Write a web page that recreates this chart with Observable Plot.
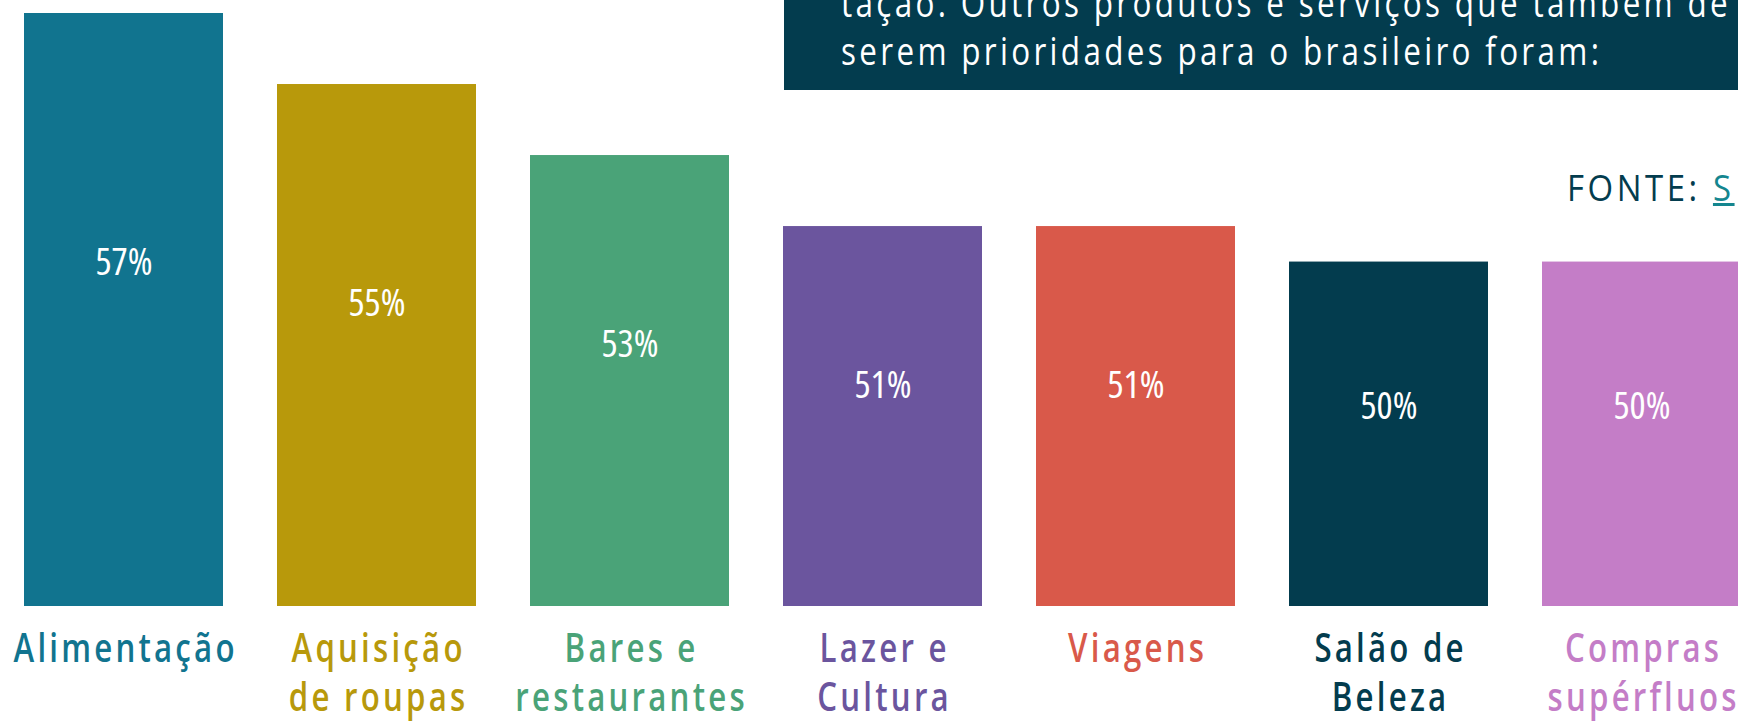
<!DOCTYPE html>
<html>
<head>
<meta charset="utf-8">
<script src="https://cdn.jsdelivr.net/npm/d3@7"></script>
<script src="https://cdn.jsdelivr.net/npm/@observablehq/plot@0.6"></script>
<style>
  html, body { margin: 0; padding: 0; background: #ffffff; overflow: hidden; width: 1738px; height: 721px; }
  #wrap { position: relative; width: 1738px; height: 721px; overflow: hidden; }
  #chart { position: absolute; left: 0; top: 0; }
  #chart svg { max-width: none !important; display: block; }
  .panel { position: absolute; left: 784px; top: 0; width: 1000px; height: 90px; background: #033c4e; overflow: hidden; }
  .line { position: absolute; left: 57px; color: #ffffff; font-size: 38px; line-height: 38px; white-space: nowrap; transform-origin: 0 50%; }
  .fonte { position: absolute; left: 1567px; top: 168px; color: #033c4e; font-size: 37px; line-height: 37px; white-space: nowrap; transform-origin: 0 50%; }
  .fonte a { color: #14868f; text-decoration: underline; }
</style>
</head>
<body>
<div id="wrap">
  <div id="chart"></div>
  <div class="panel">
    <span class="line" id="l1" style="top:-17px">tação. Outros produtos e serviços que também de</span>
    <span class="line" id="l2" style="top:31px">serem prioridades para o brasileiro foram:</span>
  </div>
  <div class="fonte" id="fonte">FONTE: <a>S</a></div>
</div>
<script>
// ---- data ----
const categories = ["Alimentação", "Aquisição\nde roupas", "Bares e\nrestaurantes", "Lazer e\nCultura", "Viagens", "Salão de\nBeleza", "Compras\nsupérfluos"];
const values = [57, 55, 53, 51, 51, 50, 50];
const colors = ["#11748f", "#b8990b", "#4aa378", "#6b559e", "#d9594a", "#033c4e", "#c47dc7"];

const data = categories.map((c, i) => ({cat: c, value: values[i], color: colors[i]}));

// ---- font choice and calibration (text widths) ----
const probe = document.createElement("span");
probe.style.cssText = "position:absolute;visibility:hidden;white-space:nowrap;left:-9999px;top:0;";
document.body.appendChild(probe);
function meas(txt, fam, size, weight, stretch) {
  probe.style.fontFamily = fam;
  probe.style.fontSize = size + "px";
  probe.style.fontWeight = weight;
  probe.style.fontStretch = stretch;
  probe.style.letterSpacing = "0px";
  probe.textContent = txt;
  return probe.getBoundingClientRect().width;
}
let FAM = '"DejaVu Sans Condensed", sans-serif', VARIABLE = false, CATW = "bold";
{
  const a = meas("Alimentação restaurantes", '"Open Sans"', 38, "600", "75%");
  const b = meas("Alimentação restaurantes", '"Open Sans"', 38, "600", "100%");
  if (a / b < 0.92) { FAM = '"Open Sans", sans-serif'; VARIABLE = true; CATW = "600"; }
}
const PCTST = VARIABLE ? "75%" : "normal";
// percent labels: condensed face sized/spaced to the reference width of "57%"
const PCTF0 = 38;
const pctNat = meas("57%", FAM, PCTF0, "normal", PCTST);
let PCTLS = (57 - pctNat) / 2, PCTF = PCTF0;
if (PCTLS < 0) { PCTLS = 0; PCTF = PCTF0 * 57 / pctNat; }
// category labels: normal-width face, horizontally compressed to the reference width
const CATF = 39, CATLS = 4;
const catNat = meas("Alimentação", FAM, CATF, CATW, "100%");
const catSx = Math.min(1, 221 / (catNat + 10 * CATLS));

const yMin = 40.3, yMax = 57;

const chart = Plot.plot({
  width: 1741,
  height: 721,
  marginLeft: 24,
  marginRight: 0,
  marginTop: 13,
  marginBottom: 115,
  style: {maxWidth: "none", background: "transparent", fontFamily: FAM},
  x: {domain: categories, paddingInner: 0.214, paddingOuter: 0, axis: null},
  y: {domain: [yMin, yMax], axis: null},
  color: {type: "identity"},
  marks: [
    Plot.barY(data, {x: "cat", y1: yMin, y2: "value", fill: "color"}),
    Plot.text(data, {
      x: "cat",
      y: d => yMin + 0.58 * (d.value - yMin),
      text: d => d.value + "%",
      fill: "white",
      fontFamily: FAM,
      fontSize: PCTF
    }),
    Plot.text(data, {
      x: "cat",
      frameAnchor: "bottom",
      dy: 48 - 0.71 * CATF,
      lineAnchor: "top",
      lineHeight: 49 / CATF,
      text: "cat",
      fill: "color",
      fontFamily: FAM,
      fontSize: CATF,
      fontWeight: CATW
    })
  ]
});
document.getElementById("chart").appendChild(chart);

const groups = chart.querySelectorAll('g[aria-label="text"]');
if (groups[0]) { groups[0].style.letterSpacing = PCTLS + "px"; groups[0].style.fontStretch = PCTST; }
if (groups[1]) {
  groups[1].style.letterSpacing = CATLS + "px";
  groups[1].style.fontStretch = "100%";
  for (const t of groups[1].querySelectorAll("text")) {
    const tr = t.getAttribute("transform") || "";
    if (/translate/.test(tr)) {
      t.setAttribute("transform", tr + ` scale(${catSx},1) translate(${CATLS / 2},0)`);
    } else {
      const x = +t.getAttribute("x") || 0, y = +t.getAttribute("y") || 0;
      t.removeAttribute("x"); t.removeAttribute("y");
      t.setAttribute("transform", `translate(${x},${y}) scale(${catSx},1) translate(${CATLS / 2},0)`);
    }
  }
}

// panel and source text: letter-spaced, compressed to the reference widths
function squeeze(el, F, ls, target) {
  el.style.fontFamily = FAM;
  el.style.fontStretch = "100%";
  el.style.fontSize = F + "px";
  el.style.letterSpacing = ls + "px";
  const w = el.getBoundingClientRect().width - ls;
  const s = Math.min(1.15, target / w);
  el.style.transform = `scaleX(${s})`;
  return s;
}
const l1 = document.getElementById("l1"), l2 = document.getElementById("l2"), fonte = document.getElementById("fonte");
const s2 = squeeze(l2, 38, 4, 758);
l1.style.fontFamily = FAM; l1.style.fontStretch = "100%"; l1.style.fontSize = "38px"; l1.style.letterSpacing = "4px";
l1.style.transform = `scaleX(${s2})`;
squeeze(fonte, 37, 4, 164);
</script>
</body>
</html>
